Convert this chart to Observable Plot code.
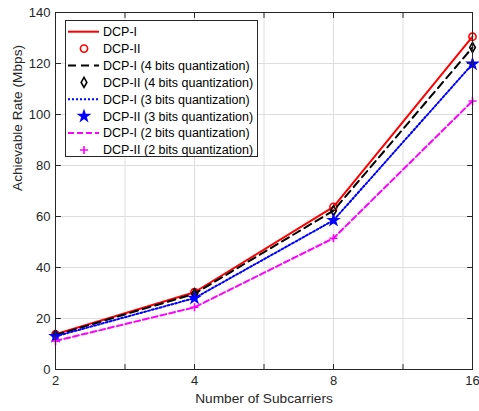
<!DOCTYPE html>
<html><head><meta charset="utf-8">
<script src="https://cdn.jsdelivr.net/npm/d3@7"></script>
<script src="https://cdn.jsdelivr.net/npm/@observablehq/plot@0.6"></script>
<style>
body{margin:0;background:#fff;font-family:"Liberation Sans",Arial,sans-serif}
#wrap{position:relative;width:479px;height:411px}
#legend{position:absolute;left:65px;top:20px}
</style></head><body><div id="wrap"></div>
<script>
// ---- data ----
const subcarriers = [2, 4, 8, 16];
const dcpI      = [13.8, 30.3, 63.8, 130.5];
const dcpII     = [13.8, 30.3, 63.8, 130.5];
const dcpI_q4   = [13.5, 29.7, 62.3, 126.3];
const dcpII_q4  = [13.5, 29.7, 62.3, 126.3];
const dcpI_q3   = [13.0, 28.0, 58.5, 119.8];
const dcpII_q3  = [13.0, 28.0, 58.5, 119.8];
const dcpI_q2   = [11.2, 24.4, 51.5, 105.3];
const dcpII_q2  = [11.2, 24.4, 51.5, 105.3];
const seriesNames = ["DCP-I","DCP-II","DCP-I (4 bits quantization)","DCP-II (4 bits quantization)",
  "DCP-I (3 bits quantization)","DCP-II (3 bits quantization)","DCP-I (2 bits quantization)","DCP-II (2 bits quantization)"];
const xLabelTicks = [2, 4, 8, 16];
const yTicks = [0, 20, 40, 60, 80, 100, 120, 140];
const xLabel = "Number of Subcarriers";
const yLabel = "Achievable Rate (Mbps)";

// ---- styles ----
const xTicks = [];
xLabelTicks.forEach((t,i)=>{ xTicks.push(t); if(i<xLabelTicks.length-1) xTicks.push(Math.sqrt(t*xLabelTicks[i+1])); });
const series = [
  {name:seriesNames[0], v:dcpI,    kind:"line", color:"#ff0000", dash:null},
  {name:seriesNames[1], v:dcpII,   kind:"dot",  color:"#ff0000", symbol:"circle", r:3.6, fill:"none"},
  {name:seriesNames[2], v:dcpI_q4, kind:"line", color:"#000000", dash:"8,5"},
  {name:seriesNames[3], v:dcpII_q4,kind:"dot",  color:"#000000", symbol:"diamond", r:3.0, fill:"none"},
  {name:seriesNames[4], v:dcpI_q3, kind:"line", color:"#0000ff", dash:"2,2"},
  {name:seriesNames[5], v:dcpII_q3,kind:"dot",  color:"#0000ff", symbol:"star", r:3.1, fill:"#0000ff"},
  {name:seriesNames[6], v:dcpI_q2, kind:"line", color:"#ff00ff", dash:"6,3"},
  {name:seriesNames[7], v:dcpII_q2,kind:"dot",  color:"#ff00ff", symbol:"plus", r:2.7, fill:"none"}
];
const symbolMap = {circle:d3.symbolCircle, diamond:d3.symbolDiamond, star:d3.symbolStar, plus:d3.symbolPlus};

const tickShape = {draw(ctx, l){ ctx.moveTo(0,0); ctx.lineTo(0,-l); }};
const axisColor = "#262626";
const font = '"Liberation Sans", Arial, sans-serif';
const marks = [
  Plot.gridX(xTicks, {stroke:"#dedede", strokeOpacity:1}),
  Plot.gridY(yTicks, {stroke:"#dedede", strokeOpacity:1})
];
series.forEach(s=>{
  const data = subcarriers.map((x,i)=>({x, y:s.v[i]}));
  if (s.kind==="line") {
    marks.push(Plot.line(data, {x:"x", y:"y", stroke:s.color, strokeWidth:2, strokeDasharray:s.dash||undefined}));
  } else {
    marks.push(Plot.dot(data, {x:"x", y:"y", symbol:s.symbol, r:s.r, stroke:s.color, fill:s.fill, strokeWidth:1.6}));
  }
});
marks.push(
  Plot.frame({stroke:axisColor, strokeWidth:1}),
  Plot.vector(xTicks, {x:d=>d, frameAnchor:"bottom", length:5, rotate:0, anchor:"start", shape:tickShape, stroke:axisColor, strokeWidth:1}),
  Plot.vector(xTicks, {x:d=>d, frameAnchor:"top", length:5, rotate:180, anchor:"start", shape:tickShape, stroke:axisColor, strokeWidth:1}),
  Plot.vector(yTicks, {y:d=>d, frameAnchor:"left", length:5, rotate:90, anchor:"start", shape:tickShape, stroke:axisColor, strokeWidth:1}),
  Plot.vector(yTicks, {y:d=>d, frameAnchor:"right", length:5, rotate:-90, anchor:"start", shape:tickShape, stroke:axisColor, strokeWidth:1}),
  Plot.axisX(xLabelTicks, {tickSize:0, tickPadding:6, tickFormat:d=>String(d), fill:axisColor, fontSize:13, label:null}),
  Plot.axisY(yTicks, {tickSize:0, tickPadding:5, tickFormat:d=>String(d), fill:axisColor, fontSize:13, label:null}),
  Plot.text([xLabel], {text:d=>d, frameAnchor:"bottom", dy:33, fontSize:13.7, fill:axisColor}),
  Plot.text([yLabel], {text:d=>d, frameAnchor:"left", dx:-38, rotate:-90, fontSize:13.7, fill:axisColor})
);

const chart = Plot.plot({
  width:479, height:411,
  marginTop:12, marginRight:7, marginBottom:42, marginLeft:55,
  style:{fontFamily:font, background:"#fff", color:axisColor},
  x:{type:"log", base:2, domain:[2,16]},
  y:{domain:[0,140]},
  marks
});
const wrap = document.getElementById("wrap");
wrap.appendChild(chart);

// ---- legend ----
const LW=193, LH=137, rowH=16.9, row0=11.7;
const lg = d3.create("svg").attr("id","legend").attr("width",LW).attr("height",LH)
  .style("font-family",font);
lg.append("rect").attr("x",0.5).attr("y",0.5).attr("width",LW-1).attr("height",LH-1)
  .attr("fill","#fff").attr("stroke","#262626");
series.forEach((s,i)=>{
  const y = row0 + i*rowH;
  if (s.kind==="line") {
    lg.append("line").attr("x1",3).attr("x2",34).attr("y1",y).attr("y2",y)
      .attr("stroke",s.color).attr("stroke-width",2).attr("stroke-dasharray",s.dash||null);
  } else {
    lg.append("path").attr("transform",`translate(19,${y})`)
      .attr("d", d3.symbol(symbolMap[s.symbol], Math.PI*s.r*s.r)())
      .attr("stroke",s.color).attr("stroke-width",1.6).attr("fill",s.fill);
  }
  lg.append("text").attr("x",38).attr("y",y).attr("dy","0.35em").attr("font-size",12.5)
    .attr("fill","#000").text(s.name);
});
wrap.appendChild(lg.node());
</script>
</body></html>
